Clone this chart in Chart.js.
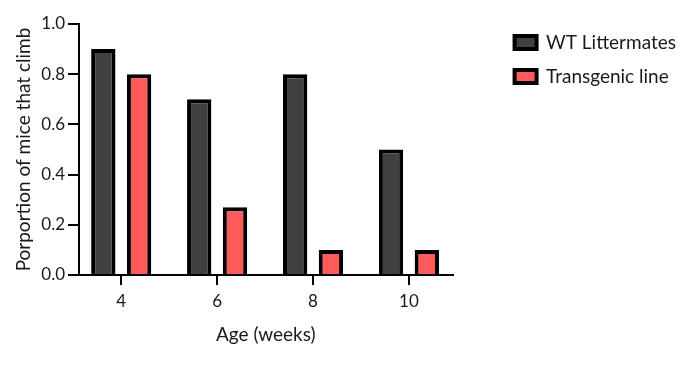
<!DOCTYPE html>
<html>
<head>
<meta charset="utf-8">
<script src="https://cdn.jsdelivr.net/npm/chart.js@4"></script>
<style>
  html, body { margin: 0; padding: 0; background: #fff; }
  #wrap { width: 700px; height: 365px; }
</style>
</head>
<body>
<div id="wrap"><canvas id="climbChart"></canvas></div>
<script>
var ages = [4, 6, 8, 10];
var wtValues = [0.9, 0.7, 0.8, 0.5];
var tgValues = [0.8, 0.27, 0.1, 0.1];
var yTicks = [0, 0.2, 0.4, 0.6, 0.8, 1.0];

var FONT = 'Lato';
var TEXT = '#1a1a1a';

function points(vals) {
    return ages.map(function(a, i) { return { x: a, y: vals[i] }; });
}

var ctx = document.getElementById('climbChart');
var myChart = new Chart(ctx, {
    type: 'bar',
    data: {
        datasets: [{
            label: 'WT Littermates',
            data: points(wtValues),
            backgroundColor: '#404040',
            borderColor: '#000000',
            borderWidth: 4,
            categoryPercentage: 0.746,
            barPercentage: 0.68
        }, {
            label: 'Transgenic line',
            data: points(tgValues),
            backgroundColor: '#ff5a5a',
            borderColor: '#000000',
            borderWidth: 4,
            categoryPercentage: 0.746,
            barPercentage: 0.68
        }]
    },
    options: {
        responsive: true,
        maintainAspectRatio: false,
        animation: false,
        layout: { padding: { top: 18, right: 14, bottom: 0, left: 0 } },
        plugins: {
            tooltip: { enabled: false },
            legend: {
                position: 'right',
                align: 'start',
                maxWidth: 240,
                labels: {
                    boxWidth: 22,
                    boxHeight: 13,
                    padding: 15,
                    color: TEXT,
                    font: { family: FONT, size: 19 }
                }
            }
        },
        scales: {
            x: {
                type: 'linear',
                min: 3.12,
                max: 10.91,
                offset: false,
                afterBuildTicks: function(s) {
                    s.ticks = ages.map(function(v) { return { value: v }; });
                },
                afterFit: function(s) { s.height = 90; },
                grid: {
                    offset: false,
                    drawOnChartArea: false,
                    drawTicks: true,
                    tickLength: 10,
                    color: '#000',
                    lineWidth: 2
                },
                border: { display: true, color: '#000', width: 2 },
                ticks: { color: TEXT, padding: 6, font: { family: FONT, size: 17 } },
                title: {
                    display: true,
                    text: 'Age (weeks)',
                    color: TEXT,
                    padding: { top: 10, bottom: 19 },
                    font: { family: FONT, size: 19 }
                }
            },
            y: {
                min: 0,
                max: 1,
                afterBuildTicks: function(s) {
                    s.ticks = yTicks.map(function(v) { return { value: v }; });
                },
                afterFit: function(s) { s.width = 79; s.paddingTop = 24; },
                grid: {
                    drawOnChartArea: false,
                    drawTicks: true,
                    tickLength: 11,
                    color: '#000',
                    lineWidth: 2
                },
                border: { display: true, color: '#000', width: 2 },
                ticks: {
                    color: TEXT,
                    padding: 3,
                    font: { family: FONT, size: 17 },
                    callback: function(v) { return v.toFixed(1); }
                },
                title: {
                    display: true,
                    text: 'Porportion of mice that climb',
                    color: TEXT,
                    padding: { top: 12, bottom: 0 },
                    font: { family: FONT, size: 19 }
                }
            },
            gap: {
                type: 'linear',
                position: 'right',
                display: true,
                grid: { display: false },
                border: { display: false },
                ticks: { display: false },
                afterFit: function(s) { s.width = 47; }
            }
        }
    }
});
</script>
</body>
</html>
